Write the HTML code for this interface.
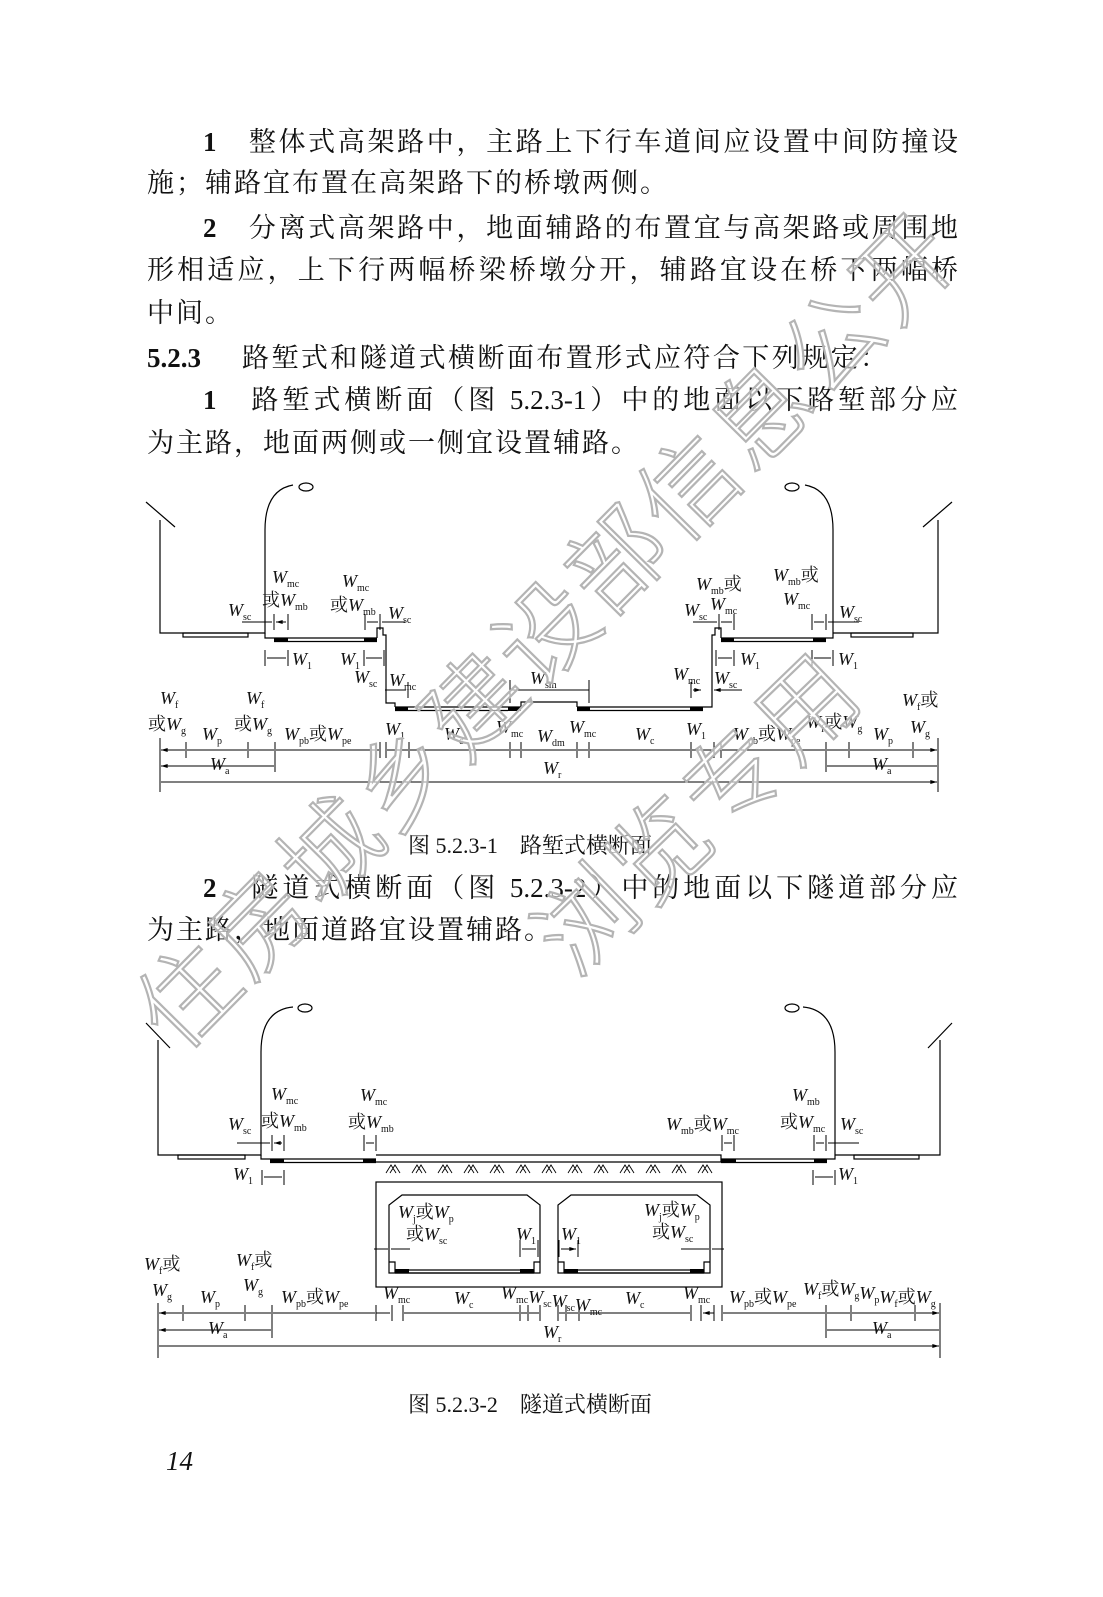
<!DOCTYPE html>
<html><head><meta charset="utf-8">
<style>
html,body{margin:0;padding:0;background:#fff;}
body{width:1103px;height:1597px;position:relative;overflow:hidden;}
.t{position:absolute;left:147px;width:811px;font-family:"Liberation Serif","Noto Serif CJK SC",serif;font-size:27px;line-height:43px;height:43px;color:#111;white-space:nowrap;}
.j{text-align:justify;text-align-last:justify;}
.b{font-weight:bold;}
.cap{position:absolute;font-family:"Liberation Serif","Noto Serif CJK SC",serif;font-size:22px;color:#111;white-space:pre;}
svg{position:absolute;left:0;top:0;}
.l{font-family:"Liberation Serif","Noto Serif CJK SC",serif;font-style:italic;font-size:18px;fill:#111;}
.s{font-size:10px;font-style:normal;}
.c{font-style:normal;}
.wm{font-family:"Noto Sans CJK SC",sans-serif;font-weight:300;fill:#fff;fill-opacity:0.6;stroke:#b4b4b4;stroke-width:2.2;}
</style></head><body>

<div class="t j" style="top:121px;left:203px;width:755px;"><span class="b">1</span>　整体式高架路中，主路上下行车道间应设置中间防撞设</div>
<div class="t" style="top:162px;letter-spacing:2px;">施；辅路宜布置在高架路下的桥墩两侧。</div>
<div class="t j" style="top:207px;left:203px;width:755px;"><span class="b">2</span>　分离式高架路中，地面辅路的布置宜与高架路或周围地</div>
<div class="t j" style="top:249px;">形相适应，上下行两幅桥梁桥墩分开，辅路宜设在桥下两幅桥</div>
<div class="t" style="top:292px;letter-spacing:2px;">中间。</div>
<div class="t j" style="top:337px;width:740px;"><span class="b">5.2.3</span>　 路堑式和隧道式横断面布置形式应符合下列规定：</div>
<div class="t j" style="top:379px;left:203px;width:755px;"><span class="b">1</span>　路堑式横断面（图 5.2.3-1）中的地面以下路堑部分应</div>
<div class="t" style="top:422px;letter-spacing:2px;">为主路，地面两侧或一侧宜设置辅路。</div>

<div class="cap" style="left:408px;top:829px;">图 5.2.3-1　路堑式横断面</div>
<div class="t j" style="top:867px;left:203px;width:755px;"><span class="b">2</span>　隧道式横断面（图 5.2.3-2）中的地面以下隧道部分应</div>
<div class="t" style="top:909px;letter-spacing:2px;">为主路，地面道路宜设置辅路。</div>
<div class="cap" style="left:408px;top:1388px;">图 5.2.3-2　隧道式横断面</div>
<div class="cap" style="left:166px;top:1446px;font-size:27px;font-style:italic;">14</div>

<svg width="1103" height="1597" viewBox="0 0 1103 1597">
<defs>
<marker id="a" viewBox="0 0 10 6" refX="10" refY="3" markerWidth="7" markerHeight="4" orient="auto-start-reverse" markerUnits="userSpaceOnUse"><path d="M0,0L10,3L0,6z" fill="#000"/></marker>
</defs>
<g stroke="#000" stroke-width="1.2" fill="none">
<path d="M146,502L175,527M160,520V633H265V530Q265,490 293,485M833,633V530Q833,490 805,485M833,633H938V520M952,502L923,527"/>
<ellipse cx="306" cy="487" rx="7" ry="4"/><ellipse cx="792" cy="487" rx="7" ry="4"/>
<rect x="183" y="633" width="65" height="4"/><rect x="851" y="633" width="62" height="4"/>
<path d="M265,633V638H274M833,633V638H826"/>
<path d="M274,638H377M274,641.5H377M377,638V628H383V635H386V703H395V707M395,707H508M395,710.5H508"/>
<path d="M508,707H521V702H577V707M577,707H703M577,710.5H703M703,707H712V635H715V628H721V638M721,638H826M721,641.5H826"/>
</g>
<g fill="#000">
<rect x="274" y="638" width="14" height="4"/><rect x="364" y="638" width="13" height="4"/>
<rect x="395" y="707" width="13" height="4"/><rect x="508" y="707" width="13" height="4"/>
<rect x="577" y="707" width="13" height="4"/><rect x="690" y="707" width="13" height="4"/>
<rect x="721" y="638" width="13" height="4"/><rect x="813" y="638" width="13" height="4"/>
</g>
<g stroke="#000" stroke-width="1" fill="none">
<path d="M274,614V630M288,614V630M365,614V630M380,614V630M719,614V630M734,614V630M812,614V630M826,614V630"/>
<path d="M265,650V666M288,650V666M364,650V666M384,650V666M716,650V666M734,650V666M812,650V666M833,650V666"/>
<path d="M408,682V698M510,680V703M589,680V703M691,682V698"/>
<path d="M160,738V792M186,742V758M248,742V758M275,742V772M380,742V758M386,742V758M409,742V758M510,742V758M521,742V758M577,742V758M589,742V758M691,742V758M714,742V758M721,742V758M826,742V772M849,742V758M913,742V758M938,738V792"/>
</g>
<g stroke="#000" stroke-width="1" marker-end="url(#a)">
<path d="M242,622H272M405,622H382M693,622H717M859,622H828M385,690H406M742,690H714"/>
</g>
<g stroke="#000" stroke-width="1" marker-start="url(#a)" marker-end="url(#a)">
<path d="M276,622H286M367,622H378M721,622H732M814,622H824M267,658H286M366,658H382M718,658H732M814,658H831M510,690H589M693,690H701"/>
<path d="M161,750H185M187,750H247M249,750H274M276,750H379M387,750H408M410,750H509M511,750H520M522,750H576M578,750H588M590,750H690M692,750H713M722,750H825M827,750H848M850,750H912M914,750H937"/>
<path d="M161,766H274M827,766H937M161,782H937"/>
</g>
<g class="l">
<text x="272" y="583">W<tspan class="s" dy="4">mc</tspan></text>
<text x="262" y="606"><tspan class="c">或</tspan>W<tspan class="s" dy="4">mb</tspan></text>
<text x="228" y="616">W<tspan class="s" dy="4">sc</tspan></text>
<text x="342" y="587">W<tspan class="s" dy="4">mc</tspan></text>
<text x="330" y="611"><tspan class="c">或</tspan>W<tspan class="s" dy="4">mb</tspan></text>
<text x="388" y="619">W<tspan class="s" dy="4">sc</tspan></text>
<text x="696" y="590">W<tspan class="s" dy="4">mb</tspan><tspan class="c" dy="-4">或</tspan></text>
<text x="684" y="616">W<tspan class="s" dy="4">sc</tspan></text>
<text x="710" y="610">W<tspan class="s" dy="4">mc</tspan></text>
<text x="773" y="581">W<tspan class="s" dy="4">mb</tspan><tspan class="c" dy="-4">或</tspan></text>
<text x="783" y="605">W<tspan class="s" dy="4">mc</tspan></text>
<text x="839" y="618">W<tspan class="s" dy="4">sc</tspan></text>
<text x="292" y="665">W<tspan class="s" dy="4">1</tspan></text>
<text x="340" y="665">W<tspan class="s" dy="4">1</tspan></text>
<text x="740" y="665">W<tspan class="s" dy="4">1</tspan></text>
<text x="838" y="665">W<tspan class="s" dy="4">1</tspan></text>
<text x="354" y="683">W<tspan class="s" dy="4">sc</tspan></text>
<text x="389" y="686">W<tspan class="s" dy="4">mc</tspan></text>
<text x="530" y="684">W<tspan class="s" dy="4">sm</tspan></text>
<text x="673" y="680">W<tspan class="s" dy="4">mc</tspan></text>
<text x="714" y="684">W<tspan class="s" dy="4">sc</tspan></text>
<text x="160" y="704">W<tspan class="s" dy="4">f</tspan></text>
<text x="148" y="730"><tspan class="c">或</tspan>W<tspan class="s" dy="4">g</tspan></text>
<text x="246" y="704">W<tspan class="s" dy="4">f</tspan></text>
<text x="234" y="730"><tspan class="c">或</tspan>W<tspan class="s" dy="4">g</tspan></text>
<text x="202" y="740">W<tspan class="s" dy="4">p</tspan></text>
<text x="284" y="740">W<tspan class="s" dy="4">pb</tspan><tspan class="c" dy="-4">或</tspan>W<tspan class="s" dy="4">pe</tspan></text>
<text x="385" y="735">W<tspan class="s" dy="4">1</tspan></text>
<text x="444" y="740">W<tspan class="s" dy="4">c</tspan></text>
<text x="496" y="733">W<tspan class="s" dy="4">mc</tspan></text>
<text x="537" y="742">W<tspan class="s" dy="4">dm</tspan></text>
<text x="569" y="733">W<tspan class="s" dy="4">mc</tspan></text>
<text x="635" y="740">W<tspan class="s" dy="4">c</tspan></text>
<text x="686" y="735">W<tspan class="s" dy="4">1</tspan></text>
<text x="733" y="740">W<tspan class="s" dy="4">pb</tspan><tspan class="c" dy="-4">或</tspan>W<tspan class="s" dy="4">pe</tspan></text>
<text x="806" y="728">W<tspan class="s" dy="4">f</tspan><tspan class="c" dy="-4">或</tspan>W<tspan class="s" dy="4">g</tspan></text>
<text x="873" y="740">W<tspan class="s" dy="4">p</tspan></text>
<text x="902" y="706">W<tspan class="s" dy="4">f</tspan><tspan class="c" dy="-4">或</tspan></text>
<text x="910" y="733">W<tspan class="s" dy="4">g</tspan></text>
<text x="210" y="770">W<tspan class="s" dy="4">a</tspan></text>
<text x="872" y="770">W<tspan class="s" dy="4">a</tspan></text>
<text x="543" y="774">W<tspan class="s" dy="4">r</tspan></text>
</g>

<g stroke="#000" stroke-width="1.2" fill="none">
<path d="M146,1023L170,1048M158,1040V1155H261V1052Q261,1010 293,1007M835,1155V1052Q835,1010 803,1007M835,1155H940V1040M952,1023L928,1048"/>
<ellipse cx="305" cy="1008" rx="7" ry="4"/><ellipse cx="792" cy="1008" rx="7" ry="4"/>
<rect x="178" y="1155" width="67" height="4"/><rect x="854" y="1155" width="65" height="4"/>
<path d="M261,1155V1159H270M835,1155V1159H827"/>
<path d="M270,1159H376M270,1162.5H376M376,1155H721V1162H376M721,1159H827M721,1162.5H827"/>
<rect x="376" y="1182" width="346" height="105"/>
<path d="M389,1273V1205L402,1195H527L540,1205V1273ZM558,1273V1205L571,1195H697L710,1205V1273Z"/>
<path d="M389,1262H395V1273M534,1273V1262H540M558,1262H564V1273M704,1273V1262H710M395,1270H534M395,1273H534M564,1270H704M564,1273H704"/>
</g>
<g stroke="#000" stroke-width="0.9" fill="none">
<path d="M386,1173L391,1165L396,1173M390,1173L395,1165L400,1173M412,1173L417,1165L422,1173M416,1173L421,1165L426,1173M438,1173L443,1165L448,1173M442,1173L447,1165L452,1173M464,1173L469,1165L474,1173M468,1173L473,1165L478,1173M490,1173L495,1165L500,1173M494,1173L499,1165L504,1173M516,1173L521,1165L526,1173M520,1173L525,1165L530,1173M542,1173L547,1165L552,1173M546,1173L551,1165L556,1173M568,1173L573,1165L578,1173M572,1173L577,1165L582,1173M594,1173L599,1165L604,1173M598,1173L603,1165L608,1173M620,1173L625,1165L630,1173M624,1173L629,1165L634,1173M646,1173L651,1165L656,1173M650,1173L655,1165L660,1173M672,1173L677,1165L682,1173M676,1173L681,1165L686,1173M698,1173L703,1165L708,1173M702,1173L707,1165L712,1173"/>
</g>
<g fill="#000">
<rect x="270" y="1159" width="14" height="4"/><rect x="363" y="1159" width="13" height="4"/>
<rect x="721" y="1159" width="15" height="4"/><rect x="814" y="1159" width="13" height="4"/>
<rect x="395" y="1269" width="14" height="4"/><rect x="520" y="1269" width="14" height="4"/>
<rect x="564" y="1269" width="14" height="4"/><rect x="690" y="1269" width="14" height="4"/>
</g>
<g stroke="#000" stroke-width="1" fill="none">
<path d="M272,1135V1151M284,1135V1151M364,1135V1151M376,1135V1151M722,1135V1151M734,1135V1151M814,1135V1151M826,1135V1151"/>
<path d="M262,1170V1185M284,1170V1185M813,1170V1185M835,1170V1185"/>
<path d="M520,1240V1257M538,1240V1257M559,1240V1257M578,1240V1257M389,1240V1257M710,1240V1257"/>
<path d="M158,1303V1358M183,1305V1321M245,1305V1321M272,1305V1338M376,1305V1321M392,1305V1321M403,1305V1321M520,1305V1321M528,1305V1321M540,1305V1321M558,1305V1321M566,1305V1321M579,1305V1321M691,1305V1321M701,1305V1321M714,1305V1321M722,1305V1321M826,1305V1338M851,1305V1321M915,1305V1321M940,1303V1358"/>
</g>
<g stroke="#000" stroke-width="1" marker-end="url(#a)">
<path d="M237,1143H270M374,1249H388M410,1249H391M681,1249H709M724,1249H712M859,1143H828M376,1313H390M714,1313H703"/>
</g>
<g stroke="#000" stroke-width="1" marker-start="url(#a)" marker-end="url(#a)">
<path d="M274,1143H282M366,1143H374M724,1143H732M816,1143H824M264,1177H282M815,1177H833M522,1249H536M561,1249H576"/>
<path d="M159,1313H182M184,1313H244M246,1313H271M273,1313H375M404,1313H519M521,1313H527M529,1313H539M559,1313H565M567,1313H578M580,1313H690M723,1313H825M827,1313H850M852,1313H914M916,1313H939"/>
<path d="M159,1330H271M827,1330H939M159,1346H939"/>
</g>
<g class="l">
<text x="271" y="1100">W<tspan class="s" dy="4">mc</tspan></text>
<text x="261" y="1127"><tspan class="c">或</tspan>W<tspan class="s" dy="4">mb</tspan></text>
<text x="228" y="1130">W<tspan class="s" dy="4">sc</tspan></text>
<text x="360" y="1101">W<tspan class="s" dy="4">mc</tspan></text>
<text x="348" y="1128"><tspan class="c">或</tspan>W<tspan class="s" dy="4">mb</tspan></text>
<text x="666" y="1130">W<tspan class="s" dy="4">mb</tspan><tspan class="c" dy="-4">或</tspan>W<tspan class="s" dy="4">mc</tspan></text>
<text x="792" y="1101">W<tspan class="s" dy="4">mb</tspan></text>
<text x="780" y="1128"><tspan class="c">或</tspan>W<tspan class="s" dy="4">mc</tspan></text>
<text x="840" y="1130">W<tspan class="s" dy="4">sc</tspan></text>
<text x="233" y="1180">W<tspan class="s" dy="4">1</tspan></text>
<text x="838" y="1180">W<tspan class="s" dy="4">1</tspan></text>
<text x="398" y="1218">W<tspan class="s" dy="4">j</tspan><tspan class="c" dy="-4">或</tspan>W<tspan class="s" dy="4">p</tspan></text>
<text x="406" y="1240"><tspan class="c">或</tspan>W<tspan class="s" dy="4">sc</tspan></text>
<text x="516" y="1240">W<tspan class="s" dy="4">1</tspan></text>
<text x="561" y="1240">W<tspan class="s" dy="4">1</tspan></text>
<text x="644" y="1216">W<tspan class="s" dy="4">j</tspan><tspan class="c" dy="-4">或</tspan>W<tspan class="s" dy="4">p</tspan></text>
<text x="652" y="1238"><tspan class="c">或</tspan>W<tspan class="s" dy="4">sc</tspan></text>
<text x="144" y="1270">W<tspan class="s" dy="4">f</tspan><tspan class="c" dy="-4">或</tspan></text>
<text x="152" y="1296">W<tspan class="s" dy="4">g</tspan></text>
<text x="236" y="1266">W<tspan class="s" dy="4">f</tspan><tspan class="c" dy="-4">或</tspan></text>
<text x="243" y="1291">W<tspan class="s" dy="4">g</tspan></text>
<text x="200" y="1303">W<tspan class="s" dy="4">p</tspan></text>
<text x="281" y="1303">W<tspan class="s" dy="4">pb</tspan><tspan class="c" dy="-4">或</tspan>W<tspan class="s" dy="4">pe</tspan></text>
<text x="383" y="1299">W<tspan class="s" dy="4">mc</tspan></text>
<text x="454" y="1304">W<tspan class="s" dy="4">c</tspan></text>
<text x="501" y="1299">W<tspan class="s" dy="4">mc</tspan>W<tspan class="s" dy="4">sc</tspan>W<tspan class="s" dy="4">sc</tspan>W<tspan class="s" dy="4">mc</tspan></text>
<text x="625" y="1304">W<tspan class="s" dy="4">c</tspan></text>
<text x="683" y="1299">W<tspan class="s" dy="4">mc</tspan></text>
<text x="729" y="1303">W<tspan class="s" dy="4">pb</tspan><tspan class="c" dy="-4">或</tspan>W<tspan class="s" dy="4">pe</tspan></text>
<text x="803" y="1295">W<tspan class="s" dy="4">f</tspan><tspan class="c" dy="-4">或</tspan>W<tspan class="s" dy="4">g</tspan>W<tspan class="s" dy="4">p</tspan>W<tspan class="s" dy="4">f</tspan><tspan class="c" dy="-4">或</tspan>W<tspan class="s" dy="4">g</tspan></text>
<text x="208" y="1334">W<tspan class="s" dy="4">a</tspan></text>
<text x="872" y="1334">W<tspan class="s" dy="4">a</tspan></text>
<text x="543" y="1338">W<tspan class="s" dy="4">r</tspan></text>
</g>

<text class="wm" x="0" y="0" font-size="98" text-anchor="middle" letter-spacing="4" transform="translate(572,656) rotate(-45.4)">住房城乡建设部信息公开</text>
<text class="wm" x="0" y="0" font-size="98" text-anchor="middle" letter-spacing="4" transform="translate(722,838) rotate(-44)">浏览专用</text>
</svg>
</body></html>
